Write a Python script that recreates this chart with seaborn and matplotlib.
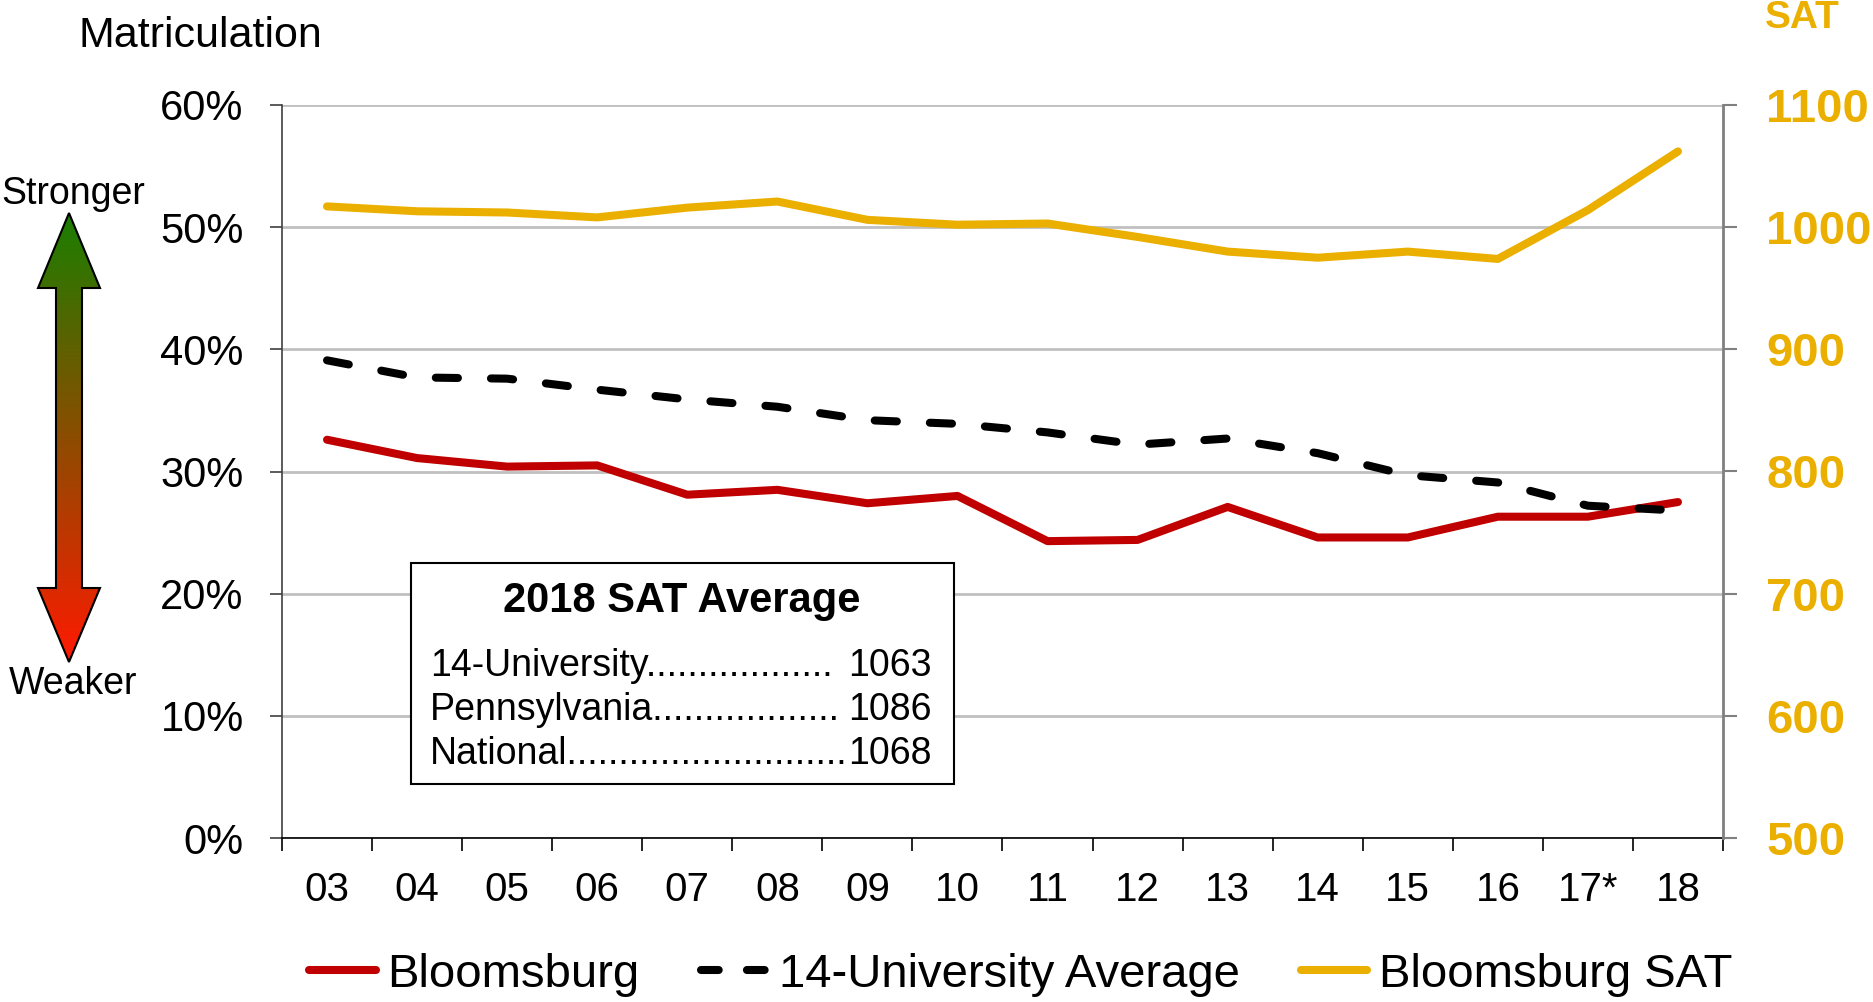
import numpy as np
import pandas as pd
import seaborn as sns
import matplotlib.pyplot as plt
from matplotlib.patches import Polygon, Rectangle
from matplotlib.lines import Line2D
from matplotlib.colors import LinearSegmentedColormap
from matplotlib.ticker import FuncFormatter

# -------------------------------
# data
years = ["03", "04", "05", "06", "07", "08", "09", "10",
         "11", "12", "13", "14", "15", "16", "17*", "18"]
bloomsburg = [32.6, 31.1, 30.4, 30.5, 28.1, 28.5, 27.4, 28.0,
              24.3, 24.4, 27.1, 24.6, 24.6, 26.3, 26.3, 27.5]
univ_avg = [39.1, 37.7, 37.6, 36.7, 35.9, 35.3, 34.2, 33.9,
            33.2, 32.2, 32.7, 31.5, 29.7, 29.1, 27.2, 26.8]
bloom_sat = [1017, 1013, 1012, 1008, 1016, 1021, 1006, 1002,
             1003, 992, 980, 975, 980, 974, 1014, 1062]

box_labels = ["14-University", "Pennsylvania", "National"]
box_dots = [18, 18, 27]
box_values = [1063, 1086, 1068]

RED = "#C00000"
GOLD = "#EBAF00"
LW = 5.8

df = pd.DataFrame({"pos": range(len(years)), "year": years,
                   "bloom": bloomsburg, "univ": univ_avg, "sat": bloom_sat})

sns.set_theme(style="white")
plt.rcParams["font.family"] = ["Liberation Sans", "DejaVu Sans"]
plt.rcParams["text.color"] = "black"
plt.rcParams["xtick.color"] = "black"
plt.rcParams["ytick.color"] = "black"
plt.rcParams["axes.labelcolor"] = "black"

W, H = 1874, 1002
fig = plt.figure(figsize=(W / 100, H / 100), dpi=100)

# plot area in pixel terms
L, R, T, B = 282, 1723, 105, 838
ax = fig.add_axes([L / W, 1 - B / H, (R - L) / W, (B - T) / H])
ax2 = ax.twinx()

# -------------------------------
# lines
sns.lineplot(data=df, x="pos", y="bloom", ax=ax, color=RED, lw=LW,
             solid_capstyle="round", zorder=3)
sns.lineplot(data=df, x="pos", y="univ", ax=ax, color="black", lw=LW,
             linestyle=(0, (2.75, 4.1)), dash_capstyle="round", zorder=3)
sns.lineplot(data=df, x="pos", y="sat", ax=ax2, color=GOLD, lw=LW,
             solid_capstyle="round")

# left axis
ax.set_xlim(-0.5, len(years) - 0.5)
ax.set_ylim(0, 60)
ax.set_yticks(range(0, 61, 10))
ax.yaxis.set_major_formatter(FuncFormatter(lambda v, p: f"{v:.0f}%"))
ax.tick_params(axis="y", length=8.6, width=1.2, color="#404040", pad=19,
               labelsize=30, left=True, labelcolor="black")
ax.yaxis.grid(True, color="#C0C0C0", lw=2)
ax.set_axisbelow(True)

ax.set_xticks(range(len(years)))
ax.set_xticklabels(years)
ax.set_xticks(np.arange(-0.5, len(years), 1), minor=True)
ax.tick_params(axis="x", which="major", length=0, pad=24, labelsize=29,
               labelcolor="black")
ax.tick_params(axis="x", which="minor", length=9, width=1.2, color="black",
               bottom=True, direction="out")
ax.set_xlabel("")
ax.set_ylabel("")

for s in ["top", "right"]:
    ax.spines[s].set_visible(False)
ax.spines["left"].set_color("#404040")
ax.spines["left"].set_linewidth(1.2)
ax.spines["bottom"].set_color("black")
ax.spines["bottom"].set_linewidth(1.2)

# right axis
ax2.set_ylim(500, 1100)
ax2.set_yticks(range(500, 1101, 100))
ax2.tick_params(axis="y", length=10, width=1.5, color="#808080", pad=21,
                labelsize=34, labelcolor=GOLD, right=True)
for lab in ax2.get_yticklabels():
    lab.set_fontweight("bold")
ax2.set_ylabel("")
for s in ["top", "left", "bottom"]:
    ax2.spines[s].set_visible(False)
ax2.spines["right"].set_color("#808080")
ax2.spines["right"].set_linewidth(2)
ax2.grid(False)

# -------------------------------
# overlay in pixel coords for arrow, titles and the text box
ov = fig.add_axes([0, 0, 1, 1], zorder=5)
ov.patch.set_alpha(0)
ov.axis("off")

cx = 69
top, hb1, hb2, bot = 213, 288, 588, 662
arrow = [(cx, top), (cx + 31, hb1), (cx + 13, hb1), (cx + 13, hb2), (cx + 31, hb2),
         (cx, bot), (cx - 31, hb2), (cx - 13, hb2), (cx - 13, hb1), (cx - 31, hb1)]
poly = Polygon(arrow, closed=True, facecolor="none", edgecolor="black", lw=1.5, zorder=3)
ov.add_patch(poly)
cmap = LinearSegmentedColormap.from_list("gr", ["#1A7F00", "#FF1A00"])
im = ov.imshow(np.linspace(0, 1, 256).reshape(-1, 1), cmap=cmap, aspect="auto",
               extent=(cx - 32, cx + 32, bot, top), zorder=2)
im.set_clip_path(poly)

ov.text(73, 204, "Stronger", fontsize=27, ha="center", va="baseline")
ov.text(73, 694, "Weaker", fontsize=27, ha="center", va="baseline")
ov.text(79, 47, "Matriculation", fontsize=31, ha="left", va="baseline")
ov.text(1802, 28, "SAT", fontsize=28, fontweight="bold", color=GOLD,
        ha="center", va="baseline")

ov.add_patch(Rectangle((411, 563), 543, 221, facecolor="white",
                       edgecolor="black", lw=1.5, zorder=3))
ov.text(682, 612, "2018 SAT Average", fontsize=30, fontweight="bold",
        ha="center", va="baseline", zorder=4)
for i, (lab, nd, val) in enumerate(zip(box_labels, box_dots, box_values)):
    y = 676 + i * 44
    ov.text(430, y, lab + "." * nd, fontsize=27, ha="left", va="baseline", zorder=4)
    ov.text(932, y, str(val), fontsize=27, ha="right", va="baseline", zorder=4)

ov.set_xlim(0, W)
ov.set_ylim(H, 0)

# -------------------------------
# legend at the bottom
handles = [
    Line2D([], [], color=RED, lw=LW, solid_capstyle="round"),
    Line2D([], [], color="black", lw=LW, linestyle=(0, (2.2, 3.5)), dash_capstyle="round"),
    Line2D([], [], color=GOLD, lw=LW, solid_capstyle="round"),
]
fig.legend(handles, ["Bloomsburg", "14-University Average", "Bloomsburg SAT"],
           loc="center", bbox_to_anchor=(1021 / W, 1 - 975 / H), ncol=3,
           frameon=False, fontsize=34, handlelength=1.4, handletextpad=0.25,
           columnspacing=1.3)

fig.savefig("out.png", dpi=100)
plt.close()
